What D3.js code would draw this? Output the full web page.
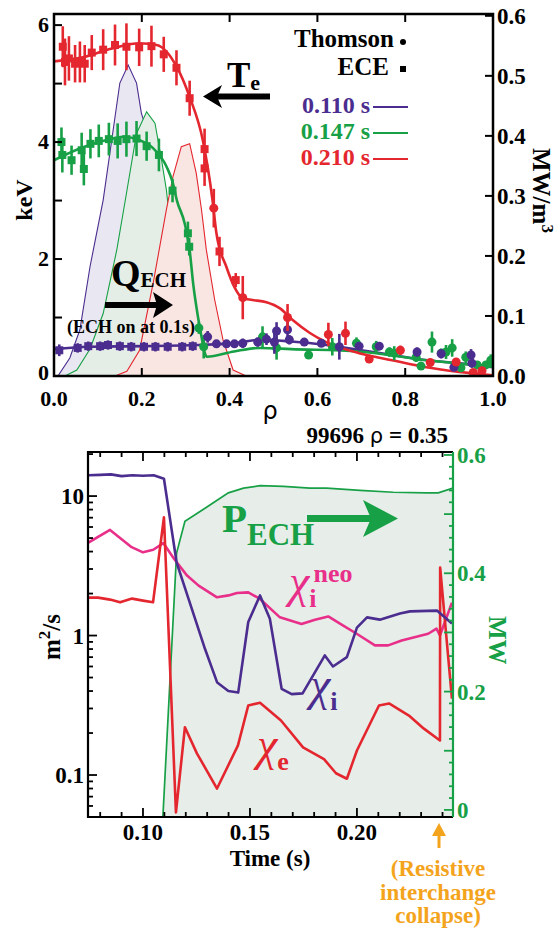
<!DOCTYPE html>
<html><head><meta charset="utf-8">
<script src="https://cdn.jsdelivr.net/npm/d3@7"></script>
<style>
body{margin:0;background:#fff}
svg{display:block}
</style>
</head><body><svg id="c" width="556" height="928"></svg>
<script>
// ---------------- TOP PANEL DATA ----------------
const fit110Rho = [0, 0.08, 0.2, 0.33, 0.42, 0.47, 0.54, 0.62, 0.7, 0.77, 0.85, 0.92, 1.0];
const fit110Te  = [0.46, 0.5, 0.51, 0.53, 0.57, 0.62, 0.59, 0.53, 0.44, 0.36, 0.27, 0.22, 0.15];
const fit147Rho = [0, 0.066, 0.127, 0.157, 0.195, 0.225, 0.257, 0.27, 0.28, 0.298, 0.309, 0.317, 0.328, 0.336, 0.343, 0.348, 0.41, 0.47, 0.54, 0.695, 0.85, 1.0];
const fit147Te  = [3.69, 3.91, 4.05, 4.09, 4.03, 3.9, 3.57, 3.32, 3.0, 2.6, 2.15, 1.58, 1.01, 0.67, 0.41, 0.33, 0.42, 0.48, 0.46, 0.42, 0.27, 0.16];
const fit210Rho = [0, 0.066, 0.127, 0.195, 0.234, 0.28, 0.309, 0.339, 0.361, 0.37, 0.393, 0.411, 0.43, 0.452, 0.484, 0.514, 0.543, 0.582, 0.62, 0.695, 0.77, 0.848, 0.923, 1.0];
const fit210Te  = [5.38, 5.45, 5.59, 5.69, 5.66, 5.28, 4.77, 4.03, 3.01, 2.44, 1.86, 1.52, 1.33, 1.3, 1.26, 1.16, 0.96, 0.74, 0.58, 0.39, 0.27, 0.15, 0.07, 0.01];

const ece110Rho = [0.012, 0.054, 0.078, 0.105, 0.123, 0.15, 0.176, 0.205, 0.231, 0.259, 0.292, 0.316];
const ece110Te  = [0.44, 0.48, 0.51, 0.51, 0.53, 0.51, 0.50, 0.50, 0.50, 0.50, 0.50, 0.51];
const ece110Err = [0.1, 0.08, 0.08, 0.08, 0.08, 0.08, 0.08, 0.08, 0.08, 0.08, 0.08, 0.08];
const ts110Rho = [0.35, 0.37, 0.393, 0.411, 0.43, 0.464, 0.484, 0.502, 0.507, 0.532, 0.536, 0.57, 0.609, 0.65, 0.695, 0.741, 0.827, 0.882, 0.911, 0.95, 0.952];
const ts110Te  = [0.67, 0.55, 0.55, 0.55, 0.56, 0.58, 0.63, 0.58, 0.77, 0.79, 0.62, 0.58, 0.56, 0.5, 0.51, 0.51, 0.41, 0.38, 0.15, 0.36, 0.22];
const ts110Err = [0.1, 0.06, 0.06, 0.06, 0.08, 0.08, 0.1, 0.2, 0.15, 0.18, 0.08, 0.06, 0.06, 0.22, 0.06, 0.06, 0.08, 0.08, 0.05, 0.1, 0.08];

const ece147Rho = [0.017, 0.019, 0.040, 0.063, 0.068, 0.083, 0.102, 0.125, 0.145, 0.165, 0.188, 0.211, 0.239, 0.27, 0.305, 0.308];
const ece147Te  = [4.0, 3.78, 3.69, 3.86, 3.54, 3.97, 4.02, 4.05, 4.02, 4.05, 4.06, 3.93, 3.78, 3.17, 2.44, 2.21];
const ece147Err = [0.25, 0.3, 0.25, 0.3, 0.28, 0.25, 0.28, 0.28, 0.3, 0.3, 0.3, 0.25, 0.28, 0.2, 0.2, 0.15];
const ts147Rho = [0.33, 0.341, 0.475, 0.507, 0.58, 0.634, 0.689, 0.734, 0.764, 0.775, 0.825, 0.836, 0.861, 0.882, 0.893, 0.907, 0.927, 0.938, 0.964, 0.984, 0.995];
const ts147Te  = [0.82, 0.5, 0.67, 0.48, 0.36, 0.5, 0.56, 0.5, 0.41, 0.39, 0.32, 0.17, 0.58, 0.39, 0.41, 0.48, 0.14, 0.32, 0.19, 0.19, 0.27];
const ts147Err = [0.1, 0.2, 0.18, 0.2, 0.05, 0.15, 0.1, 0.1, 0.08, 0.12, 0.08, 0.05, 0.18, 0.08, 0.12, 0.15, 0.05, 0.1, 0.05, 0.06, 0.1];

const ece210Rho = [0.020, 0.025, 0.034, 0.048, 0.059, 0.070, 0.086, 0.112, 0.139, 0.165, 0.194, 0.222, 0.250, 0.279, 0.309, 0.343, 0.343, 0.377, 0.414];
const ece210Te  = [5.63, 5.37, 5.43, 5.34, 5.37, 5.34, 5.53, 5.58, 5.66, 5.63, 5.62, 5.64, 5.5, 5.27, 4.75, 3.88, 3.55, 2.13, 1.64];
const ece210Err = [0.35, 0.4, 0.38, 0.32, 0.35, 0.32, 0.3, 0.35, 0.35, 0.4, 0.32, 0.35, 0.3, 0.3, 0.3, 0.35, 0.3, 0.25, 0.12];
const ts210Rho = [0.364, 0.43, 0.532, 0.625, 0.664, 0.718, 0.789, 0.857, 0.916, 0.955, 0.975];
const ts210Te  = [2.87, 1.34, 1.0, 0.71, 0.73, 0.29, 0.44, 0.23, 0.24, 0.06, 0.09];
const ts210Err = [0.33, 0.37, 0.23, 0.2, 0.2, 0.06, 0.08, 0.05, 0.06, 0.04, 0.04];

const q110Rho = [0.009, 0.036, 0.059, 0.082, 0.112, 0.15, 0.169, 0.188, 0.199, 0.218, 0.234, 0.26, 0.29, 0.32];
const q110    = [0, 0.03, 0.077, 0.182, 0.293, 0.488, 0.518, 0.488, 0.438, 0.393, 0.338, 0.2, 0.06, 0];
const q147Rho = [0.025, 0.052, 0.082, 0.112, 0.143, 0.165, 0.188, 0.211, 0.23, 0.245, 0.256, 0.28, 0.3, 0.33];
const q147    = [0, 0.01, 0.045, 0.104, 0.21, 0.304, 0.404, 0.44, 0.421, 0.36, 0.31, 0.15, 0.05, 0];
const q210Rho = [0.139, 0.166, 0.195, 0.226, 0.256, 0.271, 0.29, 0.309, 0.324, 0.336, 0.347, 0.366, 0.385, 0.408, 0.438];
const q210    = [0, 0.008, 0.043, 0.155, 0.277, 0.332, 0.382, 0.387, 0.338, 0.277, 0.21, 0.127, 0.06, 0.01, 0];

const topXTicks = [0, 0.2, 0.4, 0.6, 0.8, 1.0];
const topYTicks = [0, 1, 2, 3, 4, 5, 6];
const topYLabels = [0, 2, 4, 6];
const topY2Ticks = [0, 0.1, 0.2, 0.3, 0.4, 0.5, 0.6];
const legendTimes = ["0.110 s", "0.147 s", "0.210 s"];

// ---------------- BOTTOM PANEL DATA ----------------
const tChiI = [0.0745, 0.08, 0.085, 0.09, 0.095, 0.1, 0.105, 0.1098, 0.1157, 0.129, 0.1347, 0.1399, 0.1445, 0.1492, 0.1547, 0.1593, 0.1648, 0.1695, 0.1746, 0.185, 0.1888, 0.1953, 0.2, 0.2047, 0.2107, 0.2201, 0.2248, 0.2374, 0.2444];
const chiI  = [14.1, 14.2, 14.3, 13.9, 14.1, 14.0, 14.1, 13.3, 3.35, 0.80, 0.46, 0.40, 0.39, 1.25, 1.94, 1.32, 0.415, 0.38, 0.385, 0.72, 0.60, 0.70, 1.14, 1.35, 1.30, 1.44, 1.49, 1.51, 1.22];
const tChiNeo = [0.0745, 0.0846, 0.0947, 0.1, 0.1048, 0.1095, 0.1145, 0.1206, 0.126, 0.1346, 0.14, 0.1439, 0.1492, 0.1547, 0.164, 0.1741, 0.1804, 0.1866, 0.1936, 0.1999, 0.2084, 0.2146, 0.2209, 0.2333, 0.2372, 0.2388, 0.2444];
const chiNeo  = [4.64, 5.72, 4.3, 3.95, 4.12, 4.6, 3.55, 2.69, 2.28, 1.88, 1.94, 2.02, 2.04, 1.83, 1.35, 1.21, 1.30, 1.37, 1.18, 1.03, 0.85, 0.85, 0.92, 1.03, 1.12, 1.0, 1.72];
const tChiE = [0.0745, 0.079, 0.0846, 0.0893, 0.0949, 0.1, 0.1047, 0.1098, 0.1154, 0.1196, 0.1252, 0.1346, 0.1444, 0.1492, 0.1547, 0.1645, 0.1748, 0.1846, 0.1902, 0.1953, 0.2, 0.2103, 0.215, 0.2243, 0.2313, 0.2388, 0.2389, 0.2444];
const chiE  = [1.87, 1.87, 1.81, 1.73, 1.84, 1.78, 1.73, 7.05, 0.054, 0.22, 0.143, 0.08, 0.163, 0.315, 0.33, 0.246, 0.158, 0.13, 0.103, 0.094, 0.15, 0.315, 0.326, 0.267, 0.215, 0.177, 3.07, 0.353];
const tPech = [0.1093, 0.1157, 0.1196, 0.129, 0.1399, 0.147, 0.1547, 0.1656, 0.178, 0.1858, 0.2014, 0.217, 0.2326, 0.238, 0.2449];
const pech  = [-0.012, 0.434, 0.488, 0.51, 0.536, 0.544, 0.548, 0.547, 0.544, 0.544, 0.54, 0.537, 0.536, 0.536, 0.544];

const botXMajor = [0.10, 0.15, 0.20];
const botXLabels = ["0.10", "0.15", "0.20"];
const botYMajor = [0.1, 1, 10];
const botYLabels = ["0.1", "1", "10"];
const botY2Labels = [0, 0.2, 0.4, 0.6];

// ---------------- COLOURS ----------------
const cPurple = "#4b2d8f", cGreen = "#17a046", cRed = "#e4262f", cPink = "#e8308a", cOrange = "#f4a41c";
const SERIF = "'Liberation Serif', 'Times New Roman', Times, 'DejaVu Serif', serif";

const svg = d3.select("#c").attr("font-family", SERIF).attr("font-weight", "bold");
svg.append("rect").attr("width", 556).attr("height", 928).attr("fill", "#fff");

// ================= TOP PANEL =================
const xT = d3.scaleLinear().domain([0, 1]).range([54, 493]);
const yT = d3.scaleLinear().domain([0, 6.19]).range([376, 14]);
const yQ = d3.scaleLinear().domain([0, 0.603]).range([376, 14]);

const defs = svg.append("defs");
defs.append("clipPath").attr("id", "clipT").append("rect").attr("x", 54).attr("y", 14).attr("width", 439).attr("height", 362);
defs.append("clipPath").attr("id", "clipB").append("rect").attr("x", 88).attr("y", 452).attr("width", 365).attr("height", 365);

const gT = svg.append("g").attr("clip-path", "url(#clipT)");

function qProfile(rho, q, fill, stroke) {
  const pts = d3.zip(rho, q);
  gT.append("path").attr("d", d3.area().x(d => xT(d[0])).y0(yQ(0)).y1(d => yQ(d[1]))(pts))
    .attr("fill", fill);
  gT.append("path").attr("d", d3.line().x(d => xT(d[0])).y(d => yQ(d[1]))(pts))
    .attr("fill", "none").attr("stroke", stroke).attr("stroke-width", 1.1);
}
qProfile(q110Rho, q110, "#e9e7f1", cPurple);
qProfile(q147Rho, q147, "#e4eee7", cGreen);
qProfile(q210Rho, q210, "#f9e6e2", cRed);

function teFit(rho, te, col) {
  gT.append("path").attr("d", d3.line().curve(d3.curveMonotoneX).x(d => xT(d[0])).y(d => yT(d[1]))(d3.zip(rho, te)))
    .attr("fill", "none").attr("stroke", col).attr("stroke-width", 2.6);
}
teFit(fit110Rho, fit110Te, cPurple);
teFit(fit147Rho, fit147Te, cGreen);
teFit(fit210Rho, fit210Te, cRed);

function points(rho, te, err, col, shape, size) {
  const g = gT.append("g");
  rho.forEach((r, i) => {
    g.append("line").attr("x1", xT(r)).attr("x2", xT(r))
      .attr("y1", yT(te[i] - err[i])).attr("y2", yT(te[i] + err[i]))
      .attr("stroke", col).attr("stroke-width", 2.6);
    if (shape === "sq") {
      g.append("rect").attr("x", xT(r) - size / 2).attr("y", yT(te[i]) - size / 2)
        .attr("width", size).attr("height", size).attr("fill", col);
    } else {
      g.append("circle").attr("cx", xT(r)).attr("cy", yT(te[i])).attr("r", size / 2).attr("fill", col);
    }
  });
}
points(ece147Rho, ece147Te, ece147Err, cGreen, "sq", 8);
points(ts147Rho, ts147Te, ts147Err, cGreen, "ci", 9);
points(ece110Rho, ece110Te, ece110Err, cPurple, "sq", 8);
points(ts110Rho, ts110Te, ts110Err, cPurple, "ci", 9);
points(ece210Rho, ece210Te, ece210Err, cRed, "sq", 8);
points(ts210Rho, ts210Te, ts210Err, cRed, "ci", 9);

// frame + ticks
const axT = svg.append("g");
axT.append("rect").attr("x", 54).attr("y", 14).attr("width", 439).attr("height", 362)
  .attr("fill", "none").attr("stroke", "#000").attr("stroke-width", 2.5);
topXTicks.forEach(v => {
  axT.append("line").attr("x1", xT(v)).attr("x2", xT(v)).attr("y1", 376).attr("y2", 368).attr("stroke", "#000").attr("stroke-width", 2);
  axT.append("line").attr("x1", xT(v)).attr("x2", xT(v)).attr("y1", 14).attr("y2", 22).attr("stroke", "#000").attr("stroke-width", 2);
  axT.append("text").attr("x", xT(v)).attr("y", 406).attr("text-anchor", "middle").attr("font-size", 22).text(v.toFixed(1));
});
topYTicks.forEach(v => {
  axT.append("line").attr("x1", 54).attr("x2", 62).attr("y1", yT(v)).attr("y2", yT(v)).attr("stroke", "#000").attr("stroke-width", 2);
});
topYLabels.forEach(v => {
  axT.append("text").attr("x", 49).attr("y", yT(v) + (v === 0 ? 4 : 7)).attr("text-anchor", "end").attr("font-size", 22).text(v);
});
topY2Ticks.forEach(v => {
  axT.append("line").attr("x1", 493).attr("x2", 485).attr("y1", yQ(v)).attr("y2", yQ(v)).attr("stroke", "#000").attr("stroke-width", 2);
  axT.append("text").attr("x", 497).attr("y", yQ(v) + 8).attr("font-size", 23).text(v.toFixed(1));
});
axT.append("text").attr("transform", "translate(32,200) rotate(-90)").attr("text-anchor", "middle").attr("font-size", 24).text("keV");
const mwT = axT.append("text").attr("transform", "translate(533,148) rotate(90)").attr("font-size", 25);
mwT.append("tspan").text("MW/m");
mwT.append("tspan").attr("dy", -9).attr("font-size", 17).text("3");
axT.append("text").attr("x", 270).attr("y", 419).attr("text-anchor", "middle").attr("font-size", 24)
  .attr("font-weight", "normal").attr("font-family", "'DejaVu Sans', sans-serif").text("ρ");

// legend
const lg = svg.append("g");
lg.append("text").attr("x", 394).attr("y", 47).attr("text-anchor", "end").attr("font-size", 25).text("Thomson");
lg.append("circle").attr("cx", 403).attr("cy", 42).attr("r", 3).attr("fill", "#000");
lg.append("text").attr("x", 389).attr("y", 75).attr("text-anchor", "end").attr("font-size", 25).text("ECE");
lg.append("rect").attr("x", 400).attr("y", 66).attr("width", 6).attr("height", 6).attr("fill", "#000");
[cPurple, cGreen, cRed].forEach((c, i) => {
  const yy = 107 + i * 26;
  lg.append("text").attr("x", 370).attr("y", yy + 6).attr("text-anchor", "end").attr("font-size", 24).attr("fill", c).text(legendTimes[i]);
  lg.append("line").attr("x1", 373).attr("x2", 408).attr("y1", yy).attr("y2", yy).attr("stroke", c).attr("stroke-width", 2);
});

// annotations top
const teLab = svg.append("text").attr("x", 227).attr("y", 87).attr("font-size", 35);
teLab.append("tspan").text("T");
teLab.append("tspan").attr("dy", 3).attr("font-size", 22).text("e");
svg.append("line").attr("x1", 216).attr("x2", 270).attr("y1", 96.5).attr("y2", 96.5).attr("stroke", "#000").attr("stroke-width", 6);
svg.append("path").attr("d", "M203,96.5 L222,85 L217,96.5 L222,108 Z").attr("fill", "#000");

const qLab = svg.append("text").attr("x", 111).attr("y", 286).attr("font-size", 38);
qLab.append("tspan").text("Q");
qLab.append("tspan").attr("dy", 1).attr("font-size", 21).text("ECH");
svg.append("line").attr("x1", 105).attr("x2", 159).attr("y1", 305).attr("y2", 305).attr("stroke", "#000").attr("stroke-width", 6);
svg.append("path").attr("d", "M173,305 L153,292 L157,305 L153,318 Z").attr("fill", "#000");
svg.append("text").attr("x", 131).attr("y", 333).attr("text-anchor", "middle").attr("font-size", 18).text("(ECH on at 0.1s)");

// ================= BOTTOM PANEL =================
const xB = d3.scaleLinear().domain([0.0743, 0.2449]).range([88, 453]);
const yB = d3.scaleLog().domain([0.05, 20.7]).range([817, 452]);
const yP = d3.scaleLinear().domain([-0.012, 0.605]).range([817, 452]);

const gB = svg.append("g").attr("clip-path", "url(#clipB)");
const pPts = d3.zip(tPech, pech);
gB.append("path").attr("d", d3.area().x(d => xB(d[0])).y0(817).y1(d => yP(d[1]))(pPts)).attr("fill", "#e7eee9");
gB.append("path").attr("d", d3.line().x(d => xB(d[0])).y(d => yP(d[1]))(pPts)).attr("fill", "none").attr("stroke", cGreen).attr("stroke-width", 1.7);

function chiLine(t, v, col) {
  gB.append("path").attr("d", d3.line().x(d => xB(d[0])).y(d => yB(d[1]))(d3.zip(t, v)))
    .attr("fill", "none").attr("stroke", col).attr("stroke-width", 2.6).attr("stroke-linejoin", "round");
}
chiLine(tChiNeo, chiNeo, cPink);
chiLine(tChiE, chiE, cRed);
chiLine(tChiI, chiI, cPurple);

// frame
const axB = svg.append("g");
axB.append("path").attr("d", "M453,452 L88,452 L88,817 L453,817").attr("fill", "none").attr("stroke", "#000").attr("stroke-width", 2.2);
axB.append("line").attr("x1", 453).attr("x2", 453).attr("y1", 452).attr("y2", 817).attr("stroke", cGreen).attr("stroke-width", 2.2);
d3.range(8, 25).forEach(k => {
  const v = k / 100, major = (k % 5 === 0), len = major ? 9 : 5;
  axB.append("line").attr("x1", xB(v)).attr("x2", xB(v)).attr("y1", 817).attr("y2", 817 - len).attr("stroke", "#000").attr("stroke-width", 1.8);
  axB.append("line").attr("x1", xB(v)).attr("x2", xB(v)).attr("y1", 452).attr("y2", 452 + len).attr("stroke", "#000").attr("stroke-width", 1.8);
});
botXMajor.forEach((v, i) => {
  axB.append("text").attr("x", xB(v)).attr("y", 840).attr("text-anchor", "middle").attr("font-size", 23).text(botXLabels[i]);
});
const logTicks = [];
[0.01, 0.1, 1, 10].forEach(dec => { for (let m = 1; m <= 9; m++) logTicks.push(dec * m); });
logTicks.filter(v => v >= 0.05 && v <= 20.7).forEach(v => {
  const major = botYMajor.some(m => Math.abs(m - v) < 1e-9);
  axB.append("line").attr("x1", 88).attr("x2", 88 + (major ? 9 : 5)).attr("y1", yB(v)).attr("y2", yB(v)).attr("stroke", "#000").attr("stroke-width", 1.8);
});
botYMajor.forEach((v, i) => {
  axB.append("text").attr("x", 84).attr("y", yB(v) + 8).attr("text-anchor", "end").attr("font-size", 23).text(botYLabels[i]);
});
d3.range(0, 31).forEach(k => {
  const v = k * 0.02, major = (k % 5 === 0);
  axB.append("line").attr("x1", 453).attr("x2", 453 - (major ? 9 : 4)).attr("y1", yP(v)).attr("y2", yP(v)).attr("stroke", cGreen).attr("stroke-width", 1.8);
});
botY2Labels.forEach(v => {
  axB.append("text").attr("x", 457).attr("y", yP(v) + 8).attr("font-size", 23).attr("fill", cGreen).text(v === 0 ? "0" : v.toFixed(1));
});
const m2s = axB.append("text").attr("transform", "translate(60,660) rotate(-90)").attr("font-size", 25);
m2s.append("tspan").text("m");
m2s.append("tspan").attr("dy", -10).attr("font-size", 17).text("2");
m2s.append("tspan").attr("dy", 10).text("/s");
axB.append("text").attr("transform", "translate(489,616) rotate(90)").attr("font-size", 25).attr("fill", cGreen).text("MW");
axB.append("text").attr("x", 270).attr("y", 866).attr("text-anchor", "middle").attr("font-size", 23).text("Time (s)");
const hdr = axB.append("text").attr("x", 448).attr("y", 443).attr("text-anchor", "end").attr("font-size", 23);
hdr.append("tspan").text("99696  ");
hdr.append("tspan").attr("font-weight", "normal").attr("font-family", "'DejaVu Sans', sans-serif").attr("font-size", 21).text("ρ");
hdr.append("tspan").text(" = 0.35");

// annotations bottom
const pLab = svg.append("text").attr("x", 222).attr("y", 532).attr("font-size", 41).attr("fill", cGreen);
pLab.append("tspan").text("P");
pLab.append("tspan").attr("dy", 13).attr("font-size", 31).text("ECH");
svg.append("line").attr("x1", 307).attr("x2", 372).attr("y1", 518.5).attr("y2", 518.5).attr("stroke", cGreen).attr("stroke-width", 7);
svg.append("path").attr("d", "M398,518.5 L363,500 L371,518.5 L363,537 Z").attr("fill", cGreen);

function chiLab(x, y, col, sub, sup) {
  const t = svg.append("text").attr("x", x).attr("y", y).attr("fill", col);
  t.append("tspan").attr("font-size", 46).attr("font-weight", "normal").attr("font-style", "italic").text("χ");
  t.append("tspan").attr("font-size", 26).attr("dy", 10).text(sub);
  if (sup) t.append("tspan").attr("font-size", 26).attr("dx", -3).attr("dy", -25).text(sup);
}
chiLab(289, 597, cPink, "i", "neo");
chiLab(310, 700, cPurple, "i");
chiLab(257, 760, cRed, "e");

// orange collapse marker
svg.append("line").attr("x1", 439).attr("x2", 439).attr("y1", 848).attr("y2", 832).attr("stroke", cOrange).attr("stroke-width", 3);
svg.append("path").attr("d", "M439,823 L446,836 L432,836 Z").attr("fill", cOrange);
["(Resistive", "interchange", "collapse)"].forEach((s, i) => {
  svg.append("text").attr("x", 438).attr("y", 876 + i * 23.5).attr("text-anchor", "middle").attr("font-size", 23).attr("fill", cOrange).text(s);
});
</script>
</body></html>
